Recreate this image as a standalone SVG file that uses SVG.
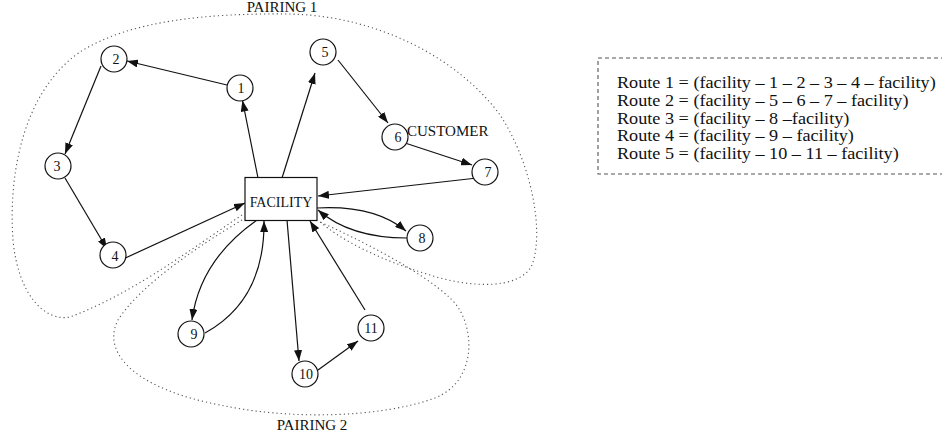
<svg xmlns="http://www.w3.org/2000/svg" width="942" height="440" viewBox="0 0 942 440">
<style>
text{font-family:"Liberation Serif","Times New Roman",serif;fill:#111}
.n circle{fill:#fff;stroke:#111;stroke-width:1.2}
.n text{font-size:14px;text-anchor:middle}
.e{fill:none;stroke:#111;stroke-width:1.2;marker-end:url(#ah)}
.dot{fill:none;stroke:#555;stroke-width:1.1;stroke-dasharray:1.2 3}
.lbl{font-size:15px}
.leg{font-size:17px}
</style>
<defs>
<marker id="ah" markerUnits="userSpaceOnUse" markerWidth="12" markerHeight="8" refX="11" refY="4" orient="auto">
<path d="M0,0 L11,4 L0,8 Z" fill="#111"/>
</marker>
</defs>
<g id="pairings">
<path class="dot" d="M242,215 C190,250 130,295 70,317 C45,322 18,295 13,240 C8,170 25,90 80,52 C130,20 210,13 290,14 C380,16 460,60 500,115 C530,160 545,230 532,265 C520,290 470,288 430,275 C380,260 340,240 318,220"/>
<path class="dot" d="M242,220 C200,245 140,285 118,320 C100,355 140,390 220,405 C290,420 380,418 435,398 C480,380 475,320 450,298 C420,270 360,240 318,221"/>
<text class="lbl" x="282" y="12" text-anchor="middle">PAIRING 1</text>
<text class="lbl" x="312" y="430" text-anchor="middle">PAIRING 2</text>
</g>
<g id="connectors">
<path class="e" d="M258,178 L242.5,100.5"/>
<path class="e" d="M227,85 L127,61"/>
<path class="e" d="M101,66 L65,154"/>
<path class="e" d="M65,178 L107,249"/>
<path class="e" d="M121,260 L245,203"/>
<path class="e" d="M282,178 L315,73"/>
<path class="e" d="M338,60 L388,123"/>
<path class="e" d="M402,142 L472,165"/>
<path class="e" d="M477,178 L318,196"/>
<path class="e" d="M317,208 Q375,205 406,231"/>
<path class="e" d="M407,238 Q350,238 318,210"/>
<path class="e" d="M257,220 Q200,260 192,320"/>
<path class="e" d="M205,333 Q265,300 264,221"/>
<path class="e" d="M287,220 L299,361"/>
<path class="e" d="M318,370 L358,341"/>
<path class="e" d="M365,310 L310,221"/>
</g>
<g id="facility" class="n">
<rect x="245" y="177.5" width="72" height="43" fill="#fff" stroke="#111" stroke-width="1.2"/>
<text x="281" y="207">FACILITY</text>
</g>
<g id="node1" class="n"><circle cx="240" cy="88" r="13"/><text x="241" y="93">1</text></g>
<g id="node2" class="n"><circle cx="114" cy="59" r="13"/><text x="116" y="64">2</text></g>
<g id="node3" class="n"><circle cx="58" cy="166" r="13"/><text x="57" y="171">3</text></g>
<g id="node4" class="n"><circle cx="113" cy="255" r="13"/><text x="115" y="261">4</text></g>
<g id="node5" class="n"><circle cx="323" cy="52" r="13"/><text x="325" y="57">5</text></g>
<g id="node6" class="n"><circle cx="395" cy="137" r="13"/><text x="398" y="142">6</text></g>
<g id="node7" class="n"><circle cx="485" cy="172" r="13"/><text x="488" y="177">7</text></g>
<g id="node8" class="n"><circle cx="420" cy="238" r="13"/><text x="422" y="243">8</text></g>
<g id="node9" class="n"><circle cx="191" cy="334" r="13"/><text x="194" y="339">9</text></g>
<g id="node10" class="n"><circle cx="305" cy="374" r="13"/><text x="306" y="379">10</text></g>
<g id="node11" class="n"><circle cx="371" cy="328" r="13"/><text x="371" y="333">11</text></g>
<text class="lbl" x="407" y="136">CUSTOMER</text>
<g id="legend">
<rect x="598" y="58" width="346" height="116" fill="none" stroke="#555" stroke-width="1.1" stroke-dasharray="4 3"/>
<g transform="translate(617,0) scale(1.07,1)">
<text class="leg" x="0" y="88">Route 1 = (facility – 1 – 2 – 3 – 4 – facility)</text>
<text class="leg" x="0" y="106">Route 2 = (facility – 5 – 6 – 7 – facility)</text>
<text class="leg" x="0" y="124">Route 3 = (facility – 8 –facility)</text>
<text class="leg" x="0" y="141.5">Route 4 = (facility – 9 – facility)</text>
<text class="leg" x="0" y="159">Route 5 = (facility – 10 – 11 – facility)</text>
</g>
</g>
</svg>
